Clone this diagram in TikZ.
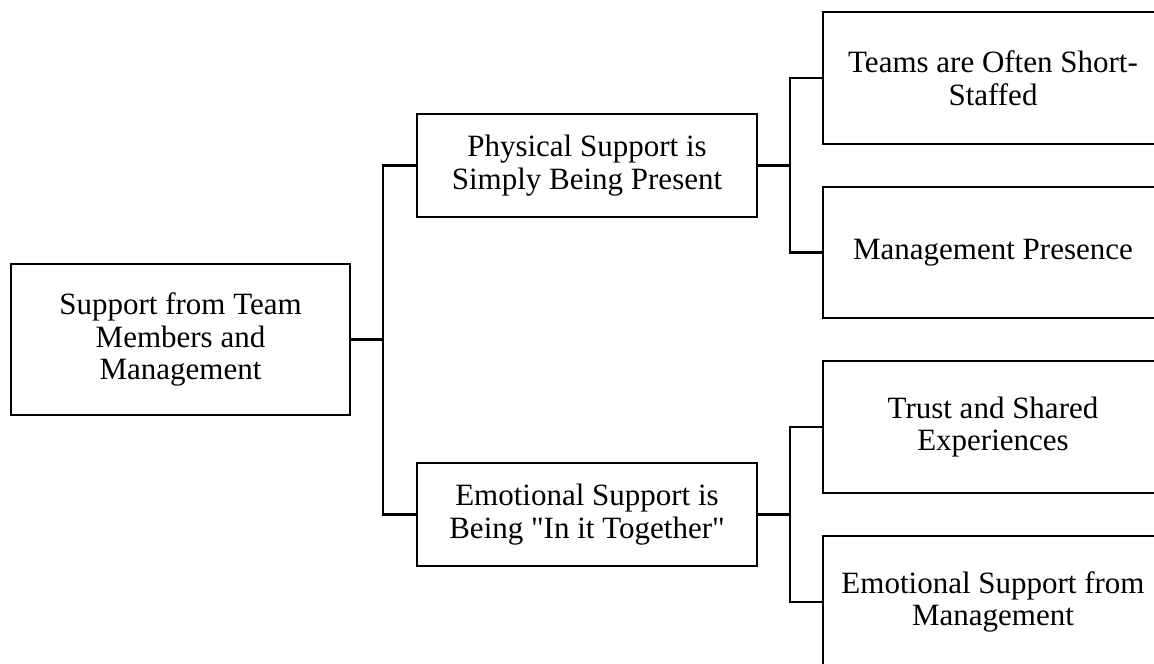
\documentclass[tikz,border=0pt]{standalone}
\usepackage{fontspec}
\setmainfont{Liberation Serif}
\begin{document}
\begin{tikzpicture}[x=1pt,y=-1pt,
  box/.style={draw,line width=2.8pt,inner sep=0pt,align=center,
    minimum width=340pt,font=\fontsize{31}{32.7}\selectfont},
  link/.style={line width=2.8pt}]
\useasboundingbox (0,0) rectangle (1154,664);
\clip (0,0) rectangle (1154,664);

% level 0
\node[box,minimum width=339pt,minimum height=151pt] (root) at (180.5,339.5)
  {Support from Team\\Members and\\Management};

% level 1
\node[box,minimum height=103pt] (phys) at (587,165.5)
  {Physical Support is\\Simply Being Present};
\node[box,minimum height=103pt] (emot) at (587,514.5)
  {Emotional Support is\\Being \textquotedbl In it Together\textquotedbl};

% level 2
\node[box,minimum height=132pt] (short) at (993,78)
  {Teams are Often Short-\\Staffed};
\node[box,minimum height=131pt] (mgmt) at (993,252.5)
  {Management Presence};
\node[box,minimum height=132pt] (trust) at (993,427)
  {Trust and Shared\\Experiences};
\node[box,minimum height=132pt] (emgmt) at (993,602)
  {Emotional Support from\\Management};

% elbow connectors
\coordinate (j0) at (383,339.5);
\coordinate (j1) at (790,165.5);
\coordinate (j2) at (790,514.5);
\draw[link] (root.east) -- (j0);
\draw[link] (j0) |- (phys.west);
\draw[link] (j0) |- (emot.west);
\draw[link] (phys.east) -- (j1);
\draw[link] (j1) |- (short.west);
\draw[link] (j1) |- (mgmt.west);
\draw[link] (emot.east) -- (j2);
\draw[link] (j2) |- (trust.west);
\draw[link] (j2) |- (emgmt.west);
\end{tikzpicture}
\end{document}
